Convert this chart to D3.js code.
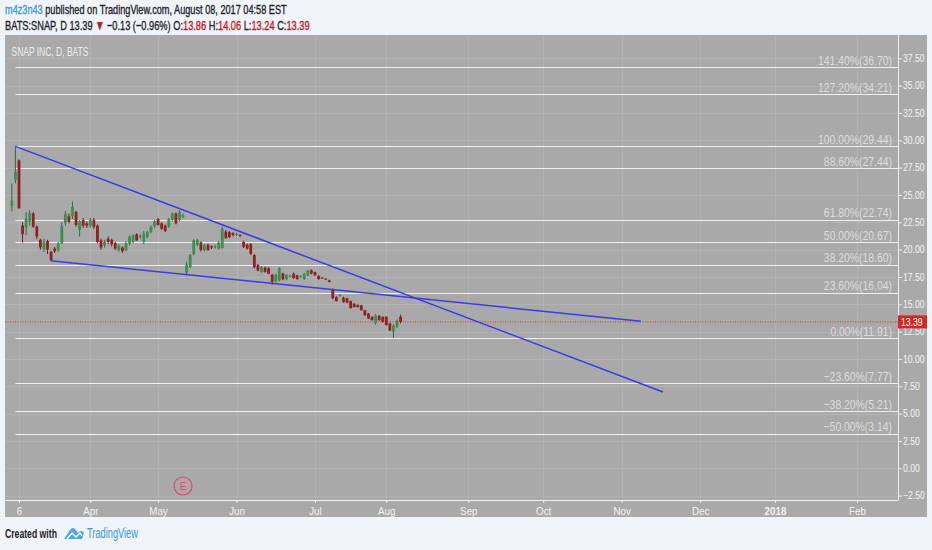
<!DOCTYPE html>
<html><head><meta charset="utf-8">
<script src="https://cdn.jsdelivr.net/npm/d3@7"></script>
<style>html,body{margin:0;padding:0;background:#f0f3f7;} svg{display:block;}</style>
</head><body><svg id="c" width="932" height="550"></svg>
<script>
// ---- data (bar index 0 = 2017-03-02, trading days) ----
const openP  = [24.00,26.39,28.17,22.21,22.03,22.55,23.30,22.10,20.90,20.05,20.80,19.80,20.10,19.95,20.60,22.45,23.05,23.05,23.45,21.80,22.70,22.40,22.20,22.70,22.20,20.85,20.40,21.00,20.90,20.60,19.95,20.20,19.95,20.55,20.70,21.40,21.15,20.75,21.15,21.60,22.10,22.80,22.40,22.20,22.10,22.70,23.30,22.70,23.00,17.90,18.40,19.60,20.45,20.65,19.95,20.45,20.30,20.20,20.10,20.15,21.65,21.60,21.50,21.35,21.35,20.70,20.45,20.50,19.50,18.60,17.95,18.35,18.30,17.70,17.10,17.20,17.80,17.30,17.55,17.80,17.65,17.50,17.30,17.65,18.10,17.95,17.60,17.45,17.35,17.20,16.30,15.65,15.75,15.60,15.55,15.30,15.05,14.95,14.90,14.45,14.15,13.85,13.30,13.95,13.85,13.85,13.25,12.50,12.95,13.86];
const highP  = [26.05,29.44,28.25,22.50,23.43,23.60,23.45,22.20,21.00,21.00,20.90,19.90,20.25,20.70,22.50,23.50,23.30,24.40,23.55,22.70,22.90,22.60,22.90,22.90,22.30,21.00,20.90,21.20,21.00,20.70,20.50,20.30,20.75,21.30,21.40,21.50,21.40,21.70,21.70,22.20,22.70,22.90,22.50,22.30,22.90,23.40,23.40,23.60,23.30,18.90,19.60,20.95,21.00,20.75,20.50,20.55,20.40,20.45,20.75,22.10,21.80,21.70,21.60,21.55,21.40,20.80,20.55,20.60,19.60,18.70,18.50,18.45,18.40,17.80,17.80,18.40,17.90,17.75,17.70,17.90,17.70,17.65,17.85,18.15,18.20,18.00,17.65,17.50,17.40,17.25,16.45,15.75,15.95,15.70,15.60,15.35,15.10,15.00,14.95,14.50,14.20,13.90,14.10,14.00,13.90,13.90,13.30,13.15,13.60,14.06];
const lowP   = [23.50,26.06,23.77,20.64,21.31,22.20,22.00,20.95,20.00,19.80,19.60,18.95,19.70,19.80,20.50,22.20,22.40,22.80,22.10,21.20,22.00,22.00,22.00,21.90,20.60,20.00,20.20,20.50,20.30,19.95,19.80,19.70,19.85,20.40,20.60,20.80,21.00,20.50,21.05,21.50,22.00,22.20,21.80,21.60,22.00,22.60,22.30,22.60,22.90,17.65,18.30,19.50,20.30,19.85,19.85,19.90,20.05,20.10,20.00,20.10,21.00,21.05,21.20,21.25,21.15,20.15,20.00,19.50,18.30,18.00,17.90,17.90,17.75,16.80,17.00,17.10,17.20,17.20,17.45,17.35,17.25,17.45,17.25,17.60,17.75,17.60,17.25,17.35,17.25,17.00,15.45,15.25,15.70,15.15,15.10,14.60,14.70,14.70,14.40,13.95,13.65,13.50,13.15,13.50,13.35,13.05,12.55,11.91,12.85,13.24];
const closeP = [24.48,27.09,23.77,21.44,22.81,23.35,22.10,21.20,20.20,20.70,20.00,19.05,19.85,20.55,22.15,23.25,22.55,23.90,22.25,22.60,22.20,22.20,22.70,22.10,20.70,20.20,20.70,20.70,20.50,20.10,20.35,19.85,20.60,21.20,21.30,20.85,21.25,21.45,21.60,22.10,22.60,22.25,21.90,21.70,22.80,23.30,22.40,23.45,23.15,18.60,19.50,20.85,20.85,19.95,20.40,19.95,20.20,20.30,20.65,21.90,21.05,21.15,21.35,21.45,21.25,20.25,20.10,19.60,18.40,18.10,18.40,17.95,17.80,17.05,17.70,18.30,17.30,17.70,17.60,17.40,17.30,17.55,17.80,18.10,17.80,17.65,17.30,17.40,17.30,17.05,15.55,15.30,15.85,15.20,15.15,14.65,14.75,14.75,14.45,14.00,13.70,13.55,13.95,13.55,13.40,13.10,12.60,13.05,13.50,13.39];

const tickIdx    = [2,22,41,63,85,105,128,149,171,193,214,237];
const tickLabels = ["6","Apr","May","Jun","Jul","Aug","Sep","Oct","Nov","Dec","2018","Feb"];
const priceTicks = [-2.5,0,2.5,5,7.5,10,12.5,15,17.5,20,22.5,25,27.5,30,32.5,35,37.5];

const fibPct   = [141.4,127.2,100,88.6,61.8,50,38.2,23.6,0,-23.6,-38.2,-50];
const fibPrice = [36.70,34.21,29.44,27.44,22.74,20.67,18.60,16.04,11.91,7.77,5.21,3.14];
const fibStartIdx = 1;

const trendA = [[1,29.44],[182.6,6.98]];
const trendB = [[10.9,18.98],[176.4,13.45]];
const lastPrice = 13.39;
const earningsIdx = 48;

// ---- layout ----
const svg = d3.select("#c");
const L=5, R=898, T=35, B=500;
const FONT = "'Liberation Sans',Arial,sans-serif";
const x = d3.scaleLinear().domain([2,237]).range([19,857]);
const y = d3.scaleLinear().domain([0,37.5]).range([468.3,58.3]);
const f2 = d3.format(".2f");

function squeeze(sel, target, ax){
  sel.each(function(){
    const w = this.getComputedTextLength();
    const s = target / w;
    d3.select(this).attr("transform",`translate(${ax},0) scale(${s},1) translate(${-ax},0)`);
  });
}
function squeezeBy(sel, s, ax){
  sel.attr("transform",`translate(${ax},0) scale(${s},1) translate(${-ax},0)`);
}

svg.append("rect").attr("width",932).attr("height",550).attr("fill","#f0f3f7");
svg.append("rect").attr("x",L).attr("y",T).attr("width",922).attr("height",482).attr("fill","#a9a9a9");

// grid
const grid = svg.append("g").attr("stroke","#b2b2b2").attr("stroke-width",1);
grid.selectAll("line.h").data(priceTicks).join("line")
  .attr("x1",L).attr("x2",R).attr("y1",d=>Math.round(y(d))+0.5).attr("y2",d=>Math.round(y(d))+0.5);
grid.selectAll("line.v").data(tickIdx).join("line")
  .attr("y1",T).attr("y2",B).attr("x1",d=>Math.round(x(d))+0.5).attr("x2",d=>Math.round(x(d))+0.5);

// fib lines
const fib = svg.append("g");
fib.selectAll("line").data(fibPrice).join("line")
  .attr("x1",x(fibStartIdx)).attr("x2",R)
  .attr("y1",d=>Math.round(y(d))+0.5).attr("y2",d=>Math.round(y(d))+0.5)
  .attr("stroke","#efefef").attr("stroke-width",1.2);
const fibText = fib.selectAll("text").data(fibPrice).join("text")
  .attr("x",892).attr("y",d=>y(d)-2.5).attr("text-anchor","end")
  .attr("font-family",FONT).attr("font-size",12.5).attr("fill","#dddddd")
  .text((d,i)=>f2(fibPct[i])+"%("+f2(d)+")");
const fw = fibText.node().getComputedTextLength();
squeezeBy(fibText, 74/fw, 892);

// last price dotted line
svg.append("line").attr("x1",L).attr("x2",R).attr("y1",y(lastPrice)).attr("y2",y(lastPrice))
  .attr("stroke","#d63a2f").attr("stroke-width",1).attr("stroke-dasharray","1,1.5");

// candles
const bars = d3.range(openP.length);
const up = i => closeP[i] >= openP[i];
const cg = svg.append("g");
cg.selectAll("line").data(bars).join("line")
  .attr("x1",i=>x(i)).attr("x2",i=>x(i))
  .attr("y1",i=>y(highP[i])).attr("y2",i=>y(lowP[i]))
  .attr("stroke",i=>up(i)?"#2f6b3c":"#6e1f1f").attr("stroke-width",1);
cg.selectAll("rect").data(bars).join("rect")
  .attr("x",i=>x(i)-1.4).attr("width",2.8)
  .attr("y",i=>y(Math.max(openP[i],closeP[i])))
  .attr("height",i=>Math.max(1,Math.abs(y(openP[i])-y(closeP[i]))))
  .attr("fill",i=>up(i)?"#3d8f4e":"#8e2222");

// trend lines
const ln = d3.line().x(d=>x(d[0])).y(d=>y(d[1]));
[trendA,trendB].forEach(t=>{
  svg.append("path").attr("d",ln(t)).attr("fill","none").attr("stroke","#3b3be8").attr("stroke-width",1.5);
});

// earnings marker
svg.append("circle").attr("cx",x(earningsIdx)).attr("cy",B-14).attr("r",9)
  .attr("fill","none").attr("stroke","#e2456f").attr("stroke-width",1.2);
svg.append("text").attr("x",x(earningsIdx)).attr("y",B-10.5).attr("text-anchor","middle")
  .attr("font-family",FONT).attr("font-size",10).attr("fill","#e2456f").text("E");

// axes
svg.append("line").attr("x1",L).attr("x2",R).attr("y1",B+0.5).attr("y2",B+0.5).attr("stroke","#eeeeee");
svg.append("line").attr("x1",R+0.5).attr("x2",R+0.5).attr("y1",T).attr("y2",B).attr("stroke","#eeeeee");
const xa = svg.append("g").attr("transform",`translate(0,${B})`)
  .call(d3.axisBottom(x).tickValues(tickIdx).tickFormat((d,i)=>tickLabels[i]).tickSize(3).tickPadding(4));
xa.select(".domain").remove();
xa.selectAll("line").attr("stroke","#eeeeee");
xa.selectAll("text").attr("fill","#f4f4f4").attr("font-family",FONT).attr("font-size",11.5)
  .attr("font-weight",(d,i)=>tickLabels[i]==="2018"?"bold":"normal")
  .attr("transform","scale(0.85,1)");
const ya = svg.append("g").attr("transform",`translate(${R},0)`)
  .call(d3.axisRight(y).tickValues(priceTicks).tickFormat(f2).tickSize(4).tickPadding(2));
ya.select(".domain").remove();
ya.selectAll("line").attr("stroke","#eeeeee");
ya.selectAll("text").attr("fill","#f4f4f4").attr("font-family",FONT).attr("font-size",10.5)
  .attr("x",0).attr("transform","translate(5,0) scale(0.82,1)");

// last price label
svg.append("rect").attr("x",R).attr("y",y(lastPrice)-6.5).attr("width",29).attr("height",13).attr("fill","#cf2a22");
const lp = svg.append("text").attr("x",R+3).attr("y",y(lastPrice)+4).attr("font-family",FONT).attr("font-size",10.5)
  .attr("fill","#ffffff").text(f2(lastPrice));
squeezeBy(lp, 0.82, R+3);

// in-chart title
const ttl = svg.append("text").attr("x",11.5).attr("y",56).attr("font-family",FONT).attr("font-size",12)
  .attr("fill","#eeeeee").text("SNAP INC, D, BATS");
squeeze(ttl, 77, 11.5);

// header
const h1 = svg.append("text").attr("x",5).attr("y",14.5).attr("font-family",FONT).attr("font-size",13.5)
  .attr("stroke-width",0.35);
h1.append("tspan").attr("fill","#3a9ad6").attr("stroke","#3a9ad6").text("m4z3n43");
h1.append("tspan").attr("fill","#1e222d").attr("stroke","#1e222d").text(" published on TradingView.com, August 08, 2017 04:58 EST");
squeeze(h1, 282, 5);
const h2 = svg.append("text").attr("x",5).attr("y",30).attr("font-family",FONT).attr("font-size",13.5)
  .attr("fill","#1e222d").attr("stroke","#1e222d").attr("stroke-width",0.35);
h2.append("tspan").text("BATS:SNAP, D  13.39 ");
h2.append("tspan").attr("fill","#c4161c").attr("stroke","#c4161c").text("▼");
h2.append("tspan").text(" −0.13 (−0.96%) O:");
h2.append("tspan").attr("fill","#c4161c").attr("stroke","#c4161c").text("13.86");
h2.append("tspan").text(" H:");
h2.append("tspan").attr("fill","#c4161c").attr("stroke","#c4161c").text("14.06");
h2.append("tspan").text(" L:");
h2.append("tspan").attr("fill","#c4161c").attr("stroke","#c4161c").text("13.24");
h2.append("tspan").text(" C:");
h2.append("tspan").attr("fill","#c4161c").attr("stroke","#c4161c").text("13.39");
squeeze(h2, 305, 5);

// footer
const cw = svg.append("text").attr("x",5).attr("y",538.5).attr("font-family",FONT).attr("font-size",13.5)
  .attr("font-weight","bold").attr("fill","#1e222d").text("Created with");
squeeze(cw, 52, 5);
const logo = svg.append("g").attr("transform","translate(64,527)");
logo.append("path").attr("d","M0,12 L6,3 Q9,-1 12,3 L14,6 Q17,2 20,6 L18,12 Z").attr("fill","#4aa8dc");
logo.append("path").attr("d","M3,12 L8,6 L12,10 L16,6 L18,9").attr("fill","none").attr("stroke","#ffffff").attr("stroke-width",1.3);
const tv = svg.append("text").attr("x",87).attr("y",538.5).attr("font-family",FONT).attr("font-size",14)
  .attr("fill","#3a9ad6").text("TradingView");
squeeze(tv, 51, 87);
</script></body></html>
